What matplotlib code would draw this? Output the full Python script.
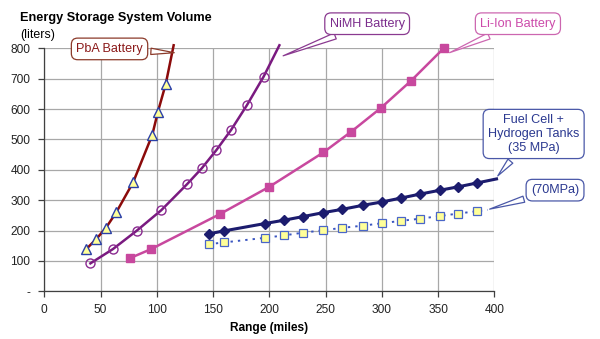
import matplotlib.pyplot as plt

plt.rcParams["font.family"] = ["Liberation Sans", "DejaVu Sans"]
plt.rcParams["font.size"] = 8.6

# range (miles) vs storage volume (liters) for each storage technology
pba_range = [37, 46, 55, 64, 79, 96, 101, 108]
pba_volume = [138, 171, 210, 260, 359, 515, 591, 683]
pba_end = (115, 810)

nimh_range = [41, 61, 82, 104, 127, 140, 153, 166, 180, 195]
nimh_volume = [92, 139, 199, 267, 353, 405, 465, 531, 612, 707]
nimh_end = (209, 810)

liion_range = [76, 95, 156, 200, 248, 273, 299, 326, 355]
liion_volume = [109, 139, 254, 344, 457, 526, 603, 693, 800]

h2_35_range = [146, 160, 196, 213, 230, 248, 265, 283, 300, 317, 334, 352, 368, 385]
h2_35_volume = [189, 199, 223, 234, 246, 259, 270, 283, 294, 307, 320, 333, 344, 357]
h2_35_end = (402, 370)

h2_70_range = [146, 160, 196, 213, 230, 248, 265, 283, 300, 317, 334, 352, 368, 385]
h2_70_volume = [155, 161, 176, 184, 193, 201, 209, 216, 224, 232, 239, 248, 256, 264]
h2_70_end = (394, 268)

x_ticks = [0, 50, 100, 150, 200, 250, 300, 350, 400]
y_ticks = [0, 100, 200, 300, 400, 500, 600, 700, 800]
y_tick_labels = ["-", "100", "200", "300", "400", "500", "600", "700", "800"]

fig = plt.figure(figsize=(6.0, 3.39), dpi=100)
ax = fig.add_axes([0.0738, 0.1407, 0.75, 0.7168])

# battery curves
ax.plot(pba_range + [pba_end[0]], pba_volume + [pba_end[1]], color="#8B0A0A",
        lw=1.8, clip_on=False, zorder=3)
ax.plot(pba_range, pba_volume, ls="none", marker="^", ms=7, mfc="#FFFF99",
        mec="#2A3FA8", mew=1.0, clip_on=False, zorder=4)

ax.plot(nimh_range + [nimh_end[0]], nimh_volume + [nimh_end[1]], color="#7A1A80",
        lw=1.8, marker="o", ms=6.5, mfc="none", mec="#8A2A90", mew=1.0,
        markevery=list(range(len(nimh_range))), clip_on=False, zorder=3)

ax.plot(liion_range, liion_volume, color="#C8489E", lw=1.8, marker="s", ms=5.5,
        mfc="#C8489E", mec="#C8489E", clip_on=False, zorder=3)

# hydrogen tank lines
ax.plot(h2_35_range + [h2_35_end[0]], h2_35_volume + [h2_35_end[1]], color="#1C1C6E",
        lw=2.2, marker="D", ms=5.5, mfc="#1C1C6E", mec="#1C1C6E",
        markevery=list(range(len(h2_35_range))), clip_on=False, zorder=3)

ax.plot(h2_70_range + [h2_70_end[0]], h2_70_volume + [h2_70_end[1]], color="#3A55C0",
        lw=1.4, ls=(0, (1.2, 2.6)), marker="s", ms=5.5, mfc="#FFFF99", mec="#4A66C8",
        mew=0.9, markevery=list(range(len(h2_70_range))), clip_on=False, zorder=3)

ax.set_xlim(0, 400)
ax.set_ylim(0, 800)
ax.set_xticks(x_ticks)
ax.set_yticks(y_ticks)
ax.set_yticklabels(y_tick_labels)
ax.grid(True, color="#A8A8A8", lw=0.9)
ax.set_axisbelow(True)
for side in ("top", "right"):
    ax.spines[side].set_visible(False)
for side in ("left", "bottom"):
    ax.spines[side].set_color("#404040")
    ax.spines[side].set_linewidth(0.9)
ax.tick_params(axis="both", direction="out", length=4, width=0.9, color="#404040",
               labelcolor="#222222", labelsize=8.6)
ax.tick_params(axis="x", pad=5.5)
ax.tick_params(axis="y", pad=6)

ax.set_xlabel("Range (miles)", fontweight="bold", fontsize=8.6, labelpad=4)
fig.text(0.033, 0.947, "Energy Storage System Volume", fontweight="bold",
         fontsize=9.2, va="center", ha="left")
fig.text(0.033, 0.897, "(liters)", fontsize=8.9, va="center", ha="left")

# callout labels
callouts = [
    ("PbA Battery", (118, 785), (58, 798), "#8B1A1A", "#8B3A2A"),
    ("NiMH Battery", (210, 772), (287, 881), "#7B2C8C", "#8A3A90"),
    ("Li-Ion Battery", (358, 782), (421, 881), "#CC4AAA", "#CC66B0"),
    ("Fuel Cell +\nHydrogen Tanks\n(35 MPa)", (401.5, 373), (435, 518), "#2B3990", "#4A58A8"),
    ("(70MPa)", (393.5, 268), (454, 333), "#2B3990", "#4A58A8"),
]
for text, tip, pos, tcolor, ecolor in callouts:
    ax.annotate(text, xy=tip, xytext=pos, textcoords="data", ha="center", va="center",
                color=tcolor, fontsize=9.1, linespacing=1.2, annotation_clip=False,
                bbox=dict(boxstyle="round,pad=0.38,rounding_size=0.5", fc="white",
                          ec=ecolor, lw=0.9),
                arrowprops=dict(arrowstyle="wedge,tail_width=0.5,shrink_factor=0.5",
                                fc="white", ec=ecolor, lw=0.9),
                zorder=6)

fig.savefig("out.png", dpi=100)
